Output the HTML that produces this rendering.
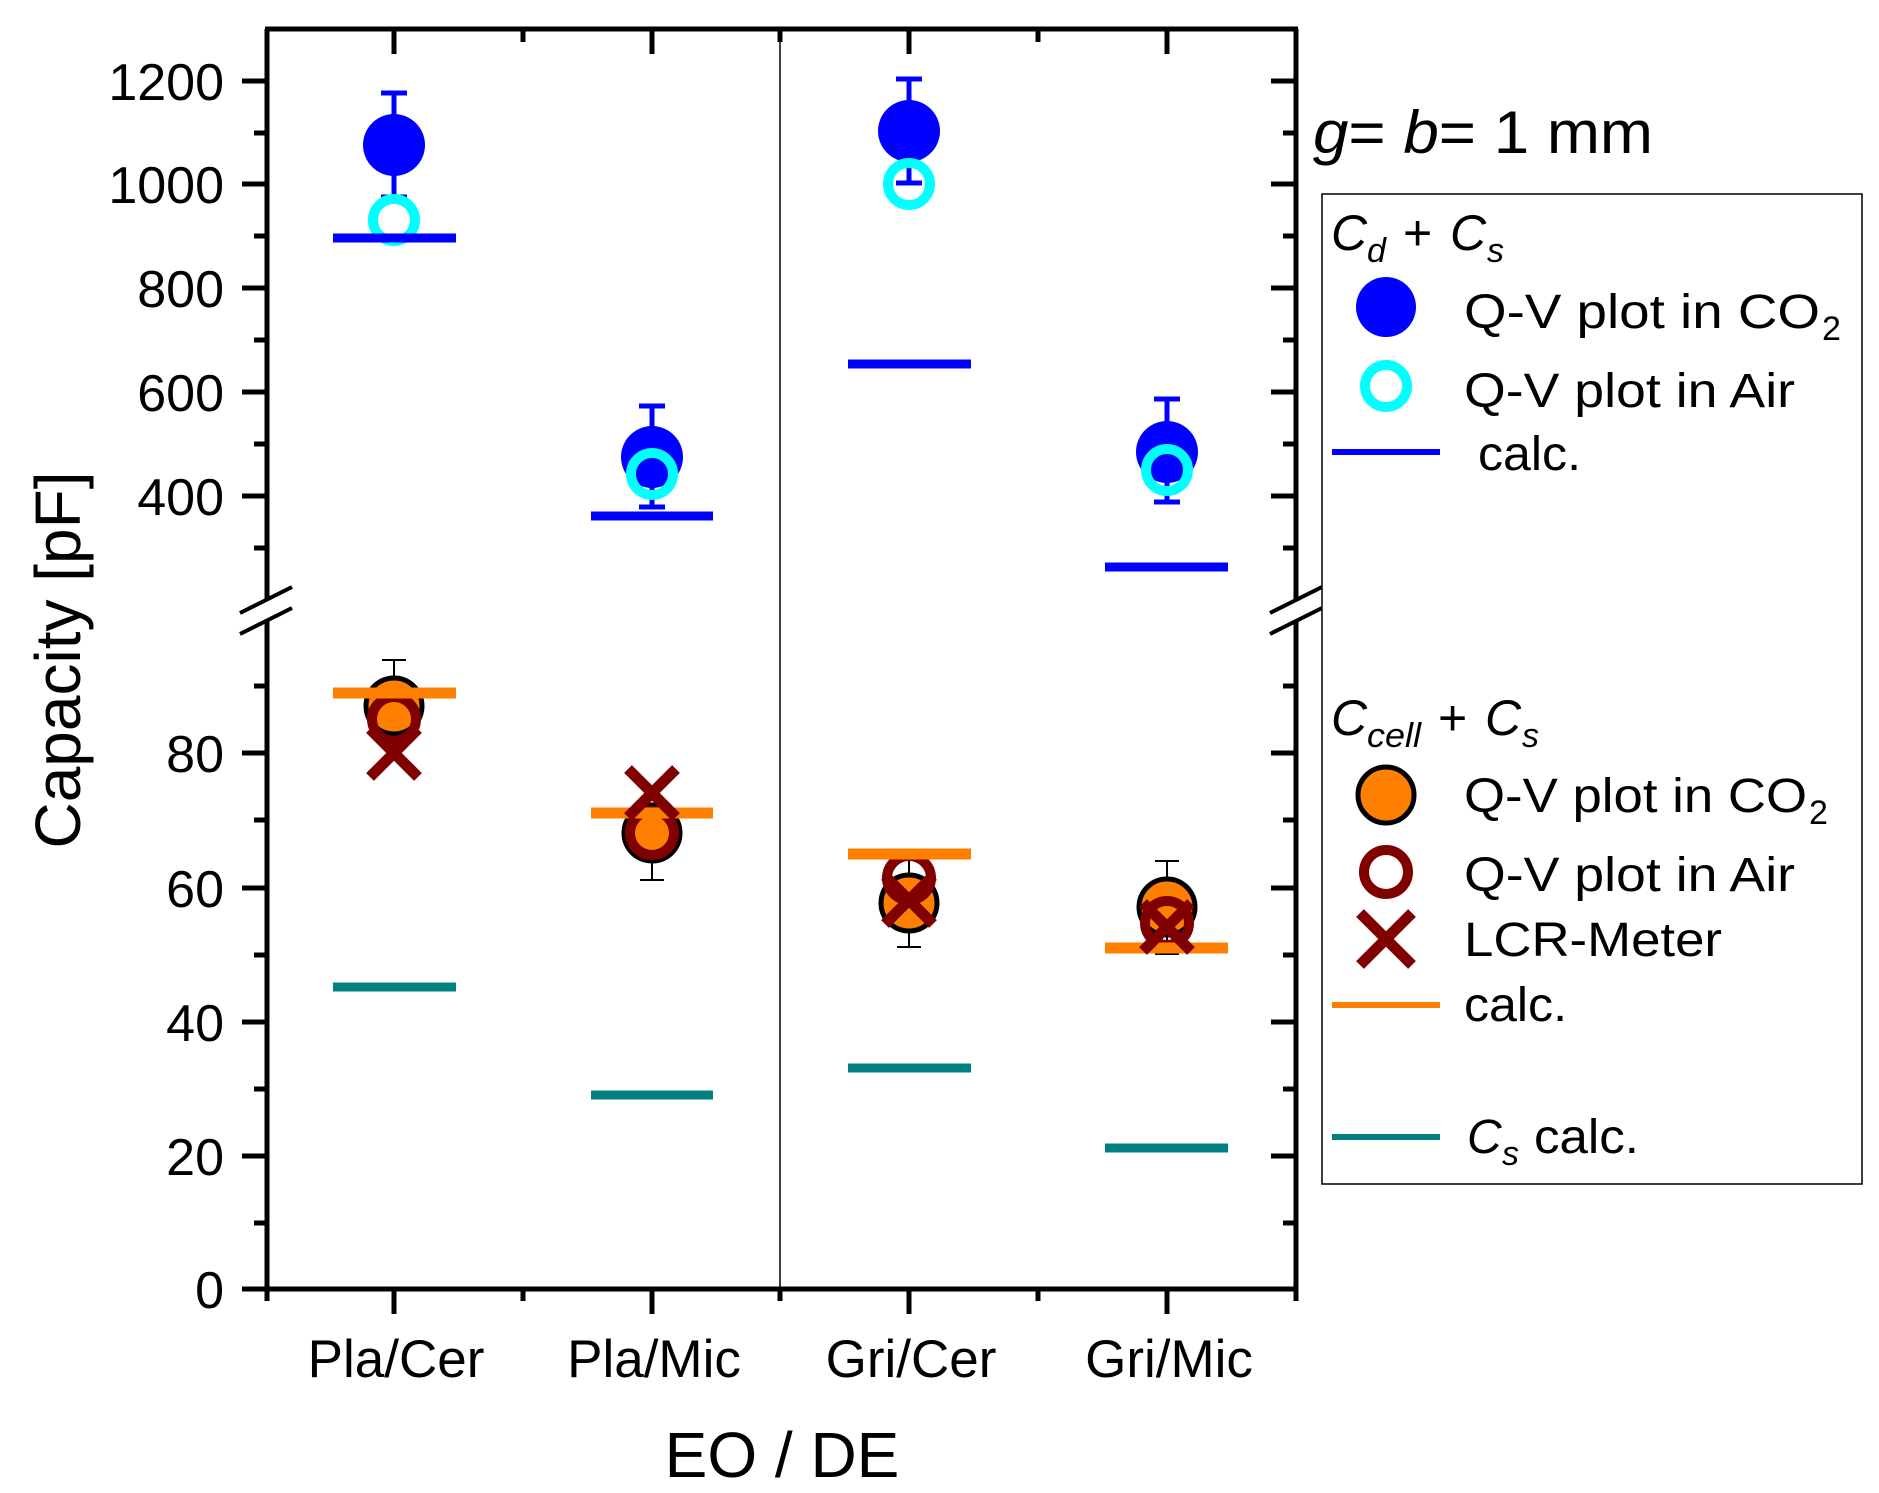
<!DOCTYPE html>
<html><head><meta charset="utf-8"><style>html,body{margin:0;padding:0;background:#fff}svg{display:block}</style></head><body>
<svg width="1879" height="1493" viewBox="0 0 1879 1493" xmlns="http://www.w3.org/2000/svg" font-family="Liberation Sans, sans-serif">
<rect width="1879" height="1493" fill="#fff"/>
<line x1="780" y1="29" x2="780" y2="1289" stroke="#000" stroke-width="1.5"/>
<g stroke="#000" stroke-width="5" fill="none">
<line x1="267" y1="29" x2="267" y2="1291"/>
<line x1="1296" y1="29" x2="1296" y2="1291"/>
<line x1="265" y1="29" x2="1298" y2="29"/>
<line x1="242" y1="1289" x2="1298" y2="1289"/>
</g>
<g stroke="#000" stroke-width="5">
<line x1="242" y1="81" x2="267" y2="81"/><line x1="254" y1="133" x2="267" y2="133"/>
<line x1="242" y1="184" x2="267" y2="184"/><line x1="254" y1="236" x2="267" y2="236"/>
<line x1="242" y1="288" x2="267" y2="288"/><line x1="254" y1="340" x2="267" y2="340"/>
<line x1="242" y1="392" x2="267" y2="392"/><line x1="254" y1="444" x2="267" y2="444"/>
<line x1="242" y1="496" x2="267" y2="496"/><line x1="254" y1="548" x2="267" y2="548"/>
<line x1="254" y1="686" x2="267" y2="686"/>
<line x1="242" y1="753" x2="267" y2="753"/><line x1="254" y1="820" x2="267" y2="820"/>
<line x1="242" y1="888" x2="267" y2="888"/><line x1="254" y1="955" x2="267" y2="955"/>
<line x1="242" y1="1022" x2="267" y2="1022"/><line x1="254" y1="1089" x2="267" y2="1089"/>
<line x1="242" y1="1156" x2="267" y2="1156"/><line x1="254" y1="1223" x2="267" y2="1223"/>
<line x1="1271" y1="81" x2="1296" y2="81"/><line x1="1283" y1="133" x2="1296" y2="133"/>
<line x1="1271" y1="184" x2="1296" y2="184"/><line x1="1283" y1="236" x2="1296" y2="236"/>
<line x1="1271" y1="288" x2="1296" y2="288"/><line x1="1283" y1="340" x2="1296" y2="340"/>
<line x1="1271" y1="392" x2="1296" y2="392"/><line x1="1283" y1="444" x2="1296" y2="444"/>
<line x1="1271" y1="496" x2="1296" y2="496"/><line x1="1283" y1="548" x2="1296" y2="548"/>
<line x1="1283" y1="686" x2="1296" y2="686"/>
<line x1="1271" y1="753" x2="1296" y2="753"/><line x1="1283" y1="820" x2="1296" y2="820"/>
<line x1="1271" y1="888" x2="1296" y2="888"/><line x1="1283" y1="955" x2="1296" y2="955"/>
<line x1="1271" y1="1022" x2="1296" y2="1022"/><line x1="1283" y1="1089" x2="1296" y2="1089"/>
<line x1="1271" y1="1156" x2="1296" y2="1156"/><line x1="1283" y1="1223" x2="1296" y2="1223"/>
<line x1="394" y1="29" x2="394" y2="54"/><line x1="523" y1="29" x2="523" y2="42"/>
<line x1="652" y1="29" x2="652" y2="54"/><line x1="780" y1="29" x2="780" y2="42"/>
<line x1="909" y1="29" x2="909" y2="54"/><line x1="1038" y1="29" x2="1038" y2="42"/>
<line x1="1167" y1="29" x2="1167" y2="54"/>
<line x1="267" y1="1289" x2="267" y2="1301"/>
<line x1="394" y1="1289" x2="394" y2="1314"/><line x1="523" y1="1289" x2="523" y2="1301"/>
<line x1="652" y1="1289" x2="652" y2="1314"/><line x1="780" y1="1289" x2="780" y2="1301"/>
<line x1="909" y1="1289" x2="909" y2="1314"/><line x1="1038" y1="1289" x2="1038" y2="1301"/>
<line x1="1167" y1="1289" x2="1167" y2="1314"/><line x1="1296" y1="1289" x2="1296" y2="1301"/>
</g>
<polygon points="240,613 292,587 292,608 240,634" fill="#fff"/>
<line x1="240" y1="613" x2="292" y2="587" stroke="#000" stroke-width="4"/>
<line x1="240" y1="634" x2="292" y2="608" stroke="#000" stroke-width="4"/>
<polygon points="1270,613 1322,587 1322,608 1270,634" fill="#fff"/>
<line x1="1270" y1="613" x2="1322" y2="587" stroke="#000" stroke-width="4"/>
<line x1="1270" y1="634" x2="1322" y2="608" stroke="#000" stroke-width="4"/>
<g font-size="52" text-anchor="end" fill="#000">
<text x="224" y="100">1200</text><text x="224" y="203">1000</text><text x="224" y="307">800</text>
<text x="224" y="411">600</text><text x="224" y="515">400</text>
<text x="224" y="772">80</text><text x="224" y="907">60</text><text x="224" y="1041">40</text>
<text x="224" y="1175">20</text><text x="224" y="1308">0</text>
</g>
<g font-size="53" text-anchor="middle">
<text x="396" y="1377">Pla/Cer</text><text x="654" y="1377">Pla/Mic</text>
<text x="911" y="1377">Gri/Cer</text><text x="1169" y="1377">Gri/Mic</text>
</g>
<text x="782" y="1477" font-size="64" text-anchor="middle">EO / DE</text>
<text transform="translate(80,660) rotate(-90)" font-size="64" text-anchor="middle">Capacity [pF]</text>

<g stroke="#0000ff" stroke-width="5">
<line x1="394" y1="93" x2="394" y2="197"/><line x1="381" y1="93" x2="407" y2="93"/><line x1="381" y1="197" x2="407" y2="197"/>
<line x1="652" y1="406" x2="652" y2="507"/><line x1="639" y1="406" x2="665" y2="406"/><line x1="639" y1="507" x2="665" y2="507"/>
<line x1="909" y1="79" x2="909" y2="183"/><line x1="896" y1="79" x2="922" y2="79"/><line x1="896" y1="183" x2="922" y2="183"/>
<line x1="1167" y1="399" x2="1167" y2="502"/><line x1="1154" y1="399" x2="1180" y2="399"/><line x1="1154" y1="502" x2="1180" y2="502"/>
</g>
<g fill="#0000ff">
<ellipse cx="394" cy="145" rx="31" ry="31"/><ellipse cx="652" cy="457" rx="31" ry="31"/>
<ellipse cx="909" cy="131" rx="31" ry="31"/><ellipse cx="1167" cy="452" rx="31" ry="31"/>
</g>
<g fill="none" stroke="#00ffff" stroke-width="10">
<circle cx="394" cy="220" r="21"/><circle cx="652" cy="474" r="21"/>
<circle cx="909" cy="184" r="21"/><circle cx="1167" cy="470" r="21"/>
</g>
<g stroke="#0000ff" stroke-width="9">
<line x1="333" y1="238" x2="456" y2="238"/><line x1="591" y1="516" x2="713" y2="516"/>
<line x1="848" y1="364" x2="971" y2="364"/><line x1="1105" y1="567" x2="1228" y2="567"/>
</g>

<g stroke="#000" stroke-width="2">
<line x1="394" y1="660" x2="394" y2="706"/><line x1="382" y1="660" x2="406" y2="660"/>
<line x1="652" y1="833" x2="652" y2="880"/><line x1="640" y1="880" x2="664" y2="880"/>
<line x1="909" y1="854" x2="909" y2="947"/><line x1="897" y1="854" x2="921" y2="854"/><line x1="897" y1="947" x2="921" y2="947"/>
<line x1="1167" y1="861" x2="1167" y2="954"/><line x1="1155" y1="861" x2="1179" y2="861"/><line x1="1155" y1="954" x2="1179" y2="954"/>
</g>
<g fill="#ff8000" stroke="#000" stroke-width="5">
<circle cx="394" cy="706" r="28"/><circle cx="652" cy="833" r="28"/>
<circle cx="909" cy="903" r="28"/><circle cx="1167" cy="907" r="28"/>
</g>
<g fill="none" stroke="#800000" stroke-width="10">
<circle cx="394" cy="719" r="22"/><circle cx="652" cy="833" r="22"/>
<circle cx="909" cy="878" r="22"/><circle cx="1167" cy="923" r="22"/>
</g>
<g stroke="#ff8000" stroke-width="11">
<line x1="333" y1="693" x2="456" y2="693"/><line x1="591" y1="813" x2="713" y2="813"/>
<line x1="848" y1="854" x2="971" y2="854"/><line x1="1105" y1="948" x2="1228" y2="948"/>
</g>
<g stroke="#800000" stroke-width="11">
<path d="M370 729 L418 777 M418 729 L370 777"/>
<path d="M628 769 L676 817 M676 769 L628 817"/>
<path d="M885 876 L933 924 M933 876 L885 924"/>
<path d="M1143 903 L1191 951 M1191 903 L1143 951"/>
</g>
<g stroke="#008080" stroke-width="9">
<line x1="333" y1="987" x2="456" y2="987"/><line x1="591" y1="1095" x2="713" y2="1095"/>
<line x1="848" y1="1068" x2="971" y2="1068"/><line x1="1105" y1="1148" x2="1228" y2="1148"/>
</g>

<text x="1313" y="153" font-size="60" textLength="340" lengthAdjust="spacingAndGlyphs"><tspan font-style="italic">g</tspan>= <tspan font-style="italic">b</tspan>= 1 mm</text>

<rect x="1322" y="194" width="540" height="990" fill="#fff" stroke="#000" stroke-width="1.5"/>
<g font-size="50">
<text x="1331" y="250" font-style="italic">C</text><text x="1367" y="262" font-size="34" font-style="italic">d</text>
<text x="1403" y="250">+</text>
<text x="1450" y="250" font-style="italic">C</text><text x="1487" y="262" font-size="34" font-style="italic">s</text>
<text x="1331" y="735" font-style="italic">C</text><text x="1367" y="747" font-size="34" font-style="italic" textLength="54" lengthAdjust="spacingAndGlyphs">cell</text>
<text x="1438" y="735">+</text>
<text x="1485" y="735" font-style="italic">C</text><text x="1522" y="747" font-size="34" font-style="italic">s</text>
</g>
<g font-size="48" lengthAdjust="spacingAndGlyphs">
<text x="1464" y="328" textLength="356" lengthAdjust="spacingAndGlyphs">Q-V plot  in CO</text><text x="1822" y="340" font-size="34">2</text>
<text x="1464" y="407" textLength="331" lengthAdjust="spacingAndGlyphs">Q-V plot in Air</text>
<text x="1478" y="470" textLength="103" lengthAdjust="spacingAndGlyphs">calc.</text>
<text x="1464" y="812" textLength="343" lengthAdjust="spacingAndGlyphs">Q-V plot in CO</text><text x="1809" y="824" font-size="34">2</text>
<text x="1464" y="891" textLength="331" lengthAdjust="spacingAndGlyphs">Q-V plot in Air</text>
<text x="1464" y="956" textLength="258" lengthAdjust="spacingAndGlyphs">LCR-Meter</text>
<text x="1464" y="1021" textLength="103" lengthAdjust="spacingAndGlyphs">calc.</text>
<text x="1467" y="1153" font-style="italic">C</text><text x="1502" y="1165" font-size="34" font-style="italic">s</text>
<text x="1534" y="1153" textLength="105" lengthAdjust="spacingAndGlyphs">calc.</text>
</g>
<circle cx="1386" cy="307" r="30" fill="#0000ff"/>
<circle cx="1386" cy="386" r="21" fill="none" stroke="#00ffff" stroke-width="10"/>
<line x1="1332" y1="452" x2="1440" y2="452" stroke="#0000ff" stroke-width="6"/>
<circle cx="1386" cy="795" r="28" fill="#ff8000" stroke="#000" stroke-width="5"/>
<circle cx="1386" cy="872" r="22" fill="none" stroke="#800000" stroke-width="10"/>
<path d="M1360 913 L1412 965 M1412 913 L1360 965" stroke="#800000" stroke-width="11"/>
<line x1="1332" y1="1005" x2="1440" y2="1005" stroke="#ff8000" stroke-width="6"/>
<line x1="1332" y1="1137" x2="1440" y2="1137" stroke="#008080" stroke-width="6"/>
</svg>
</body></html>
